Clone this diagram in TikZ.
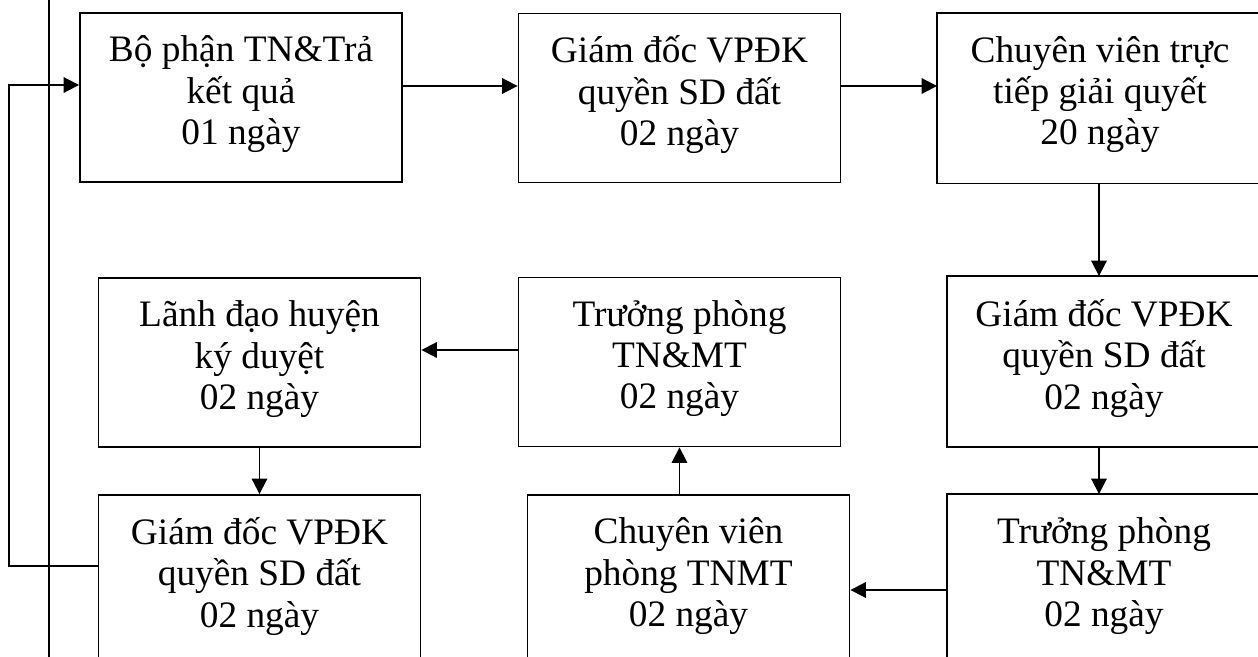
\documentclass[tikz,border=0pt]{standalone}
\usepackage{fontspec}
\setmainfont{Liberation Serif}
\usetikzlibrary{positioning,calc,arrows.meta}

\begin{document}
\begin{tikzpicture}[
  x=0.75pt, y=-0.75pt,
  line width=1.4pt,
  step box/.style={
    draw,
    inner sep=0pt,
    minimum width=241.5pt,
    minimum height=126.75pt,
    align=center,
    font=\fontsize{28}{31}\selectfont,
  },
  % boxes cut by the right margin: no right side
  right box/.style={
    step box,
    draw=none,
    minimum width=#1,
  },
  arr/.style={-{Triangle[length=11.5pt,width=11.5pt]}},
  ]
  \useasboundingbox (0,0) rectangle (1258,657);
  \clip (0,0) rectangle (1258,657);

  % first row
  \node[step box] (b1) at (241,97.5)
  {Bộ phận TN\&Trả\\kết quả\\01 ngày\\[-20pt]\mbox{}};
  \node[step box] (b2) at (679.5,98)
  {Giám đốc VPĐK\\quyền SD đất\\02 ngày\\[-20pt]\mbox{}};
  \node[right box=243pt] (b3) at (1100,98)
  {Chuyên viên trực\\tiếp giải quyết\\20 ngày\\[-20pt]\mbox{}};

  % second row
  \node[step box] (b6) at (259.5,362.5)
  {Lãnh đạo huyện\\ký duyệt\\02 ngày\\[-20pt]\mbox{}};
  \node[step box] (b5) at (679.5,362)
  {Trưởng phòng\\TN\&MT\\02 ngày\\[-20pt]\mbox{}};
  \node[right box=234pt] (b4) at (1104,361.5)
  {Giám đốc VPĐK\\quyền SD đất\\02 ngày\\[-20pt]\mbox{}};

  % third row
  \node[step box] (b7) at (259.5,579.5)
  {Giám đốc VPĐK\\quyền SD đất\\02 ngày\\[-20pt]\mbox{}};
  \node[step box] (b8) at (688.5,579.5)
  {Chuyên viên\\phòng TNMT\\02 ngày\\[-20pt]\mbox{}};
  \node[right box=234pt] (b9) at (1104,579.5)
  {Trưởng phòng\\TN\&MT\\02 ngày\\[-20pt]\mbox{}};

  \foreach \b in {b3,b4,b9}
    \draw ([xshift=5pt]\b.north east) -- (\b.north west)
      -- (\b.south west) -- ([xshift=5pt]\b.south east);

  \coordinate (vt) at (49,0);
  \coordinate (vb) at (49,657);
  \draw (vt) -- (vb);

  \draw[arr] (b1.east |- 0,86) -- (b2.west |- 0,86);
  \draw[arr] (b2.east |- 0,86) -- (b3.west |- 0,86);
  \draw[arr] (b3.south -| 1099,0) -- (b4.north -| 1099,0);
  \draw[arr] (b4.south -| 1099,0) -- (b9.north -| 1099,0);
  \draw[arr] (b9.west |- 0,590) -- (b8.east |- 0,590);
  \draw[arr] (b5.south |- b8.north) -- (b5.south);
  \draw[arr] (b5.west |- 0,350) -- (b6.east |- 0,350);
  \draw[arr] (b6.south) -- (b7.north);
  \draw[arr] (b7.west |- 0,566) -- ++(-89,0) |- (b1.west |- 0,85);
\end{tikzpicture}
\end{document}
